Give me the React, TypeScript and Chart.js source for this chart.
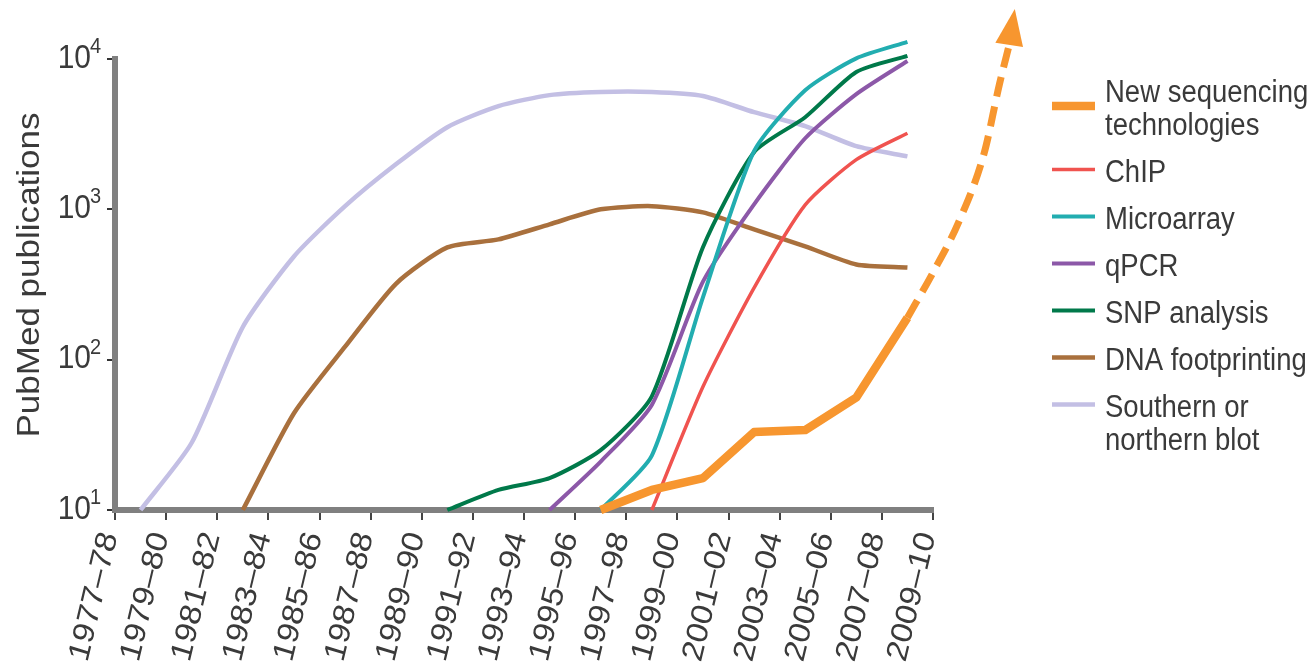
import React, { useEffect, useRef } from 'react';
import { Chart, registerables } from 'chart.js';

Chart.register(...registerables);

// ---------- data ----------
const PERIOD_LABELS = [
  '1977–78', '1979–80', '1981–82', '1983–84', '1985–86', '1987–88', '1989–90', '1991–92', '1993–94',
  '1995–96', '1997–98', '1999–00', '2001–02', '2003–04', '2005–06', '2007–08', '2009–10',
];
const TICK_POSITIONS = [0, 1, 2, 3, 4, 5, 6, 7, 8, 9, 10, 11, 12, 13, 14, 15, 16];
const POINT_X = [0.5, 1.5, 2.5, 3.5, 4.5, 5.5, 6.5, 7.5, 8.5, 9.5, 10.5, 11.5, 12.5, 13.5, 14.5, 15.5];

const NGS = [null, null, null, null, null, null, null, null, null, 10, 13.6, 16.3, 33, 34, 56, 190];
const NGS_PROJ_X = [15.5, 16.0, 16.5, 17.0, 17.3, 17.49];
const NGS_PROJ_Y = [190, 380, 820, 2360, 6810, 12400];
const NGS_ARROW_TIP = { x: 17.6, y: 21500 };
const CHIP = [null, null, null, null, null, null, null, null, null, null, 10, 66, 300, 1070, 2140, 3210];
const MICROARRAY = [null, null, null, null, null, null, null, null, null, 10, 23, 260, 2440, 6200, 10100, 13000];
const QPCR = [null, null, null, null, null, null, null, null, 10, 21, 50, 330, 1080, 2970, 5840, 9700];
const SNP = [null, null, null, null, null, null, 10, 13.6, 16.3, 25, 57, 560, 2400, 4100, 8200, 10500];
const DNA_FP = [null, null, 10, 44, 122, 321, 558, 631, 795, 1000, 1050, 955, 735, 567, 430, 410];
const BLOT = [10, 28, 165, 486, 1050, 2000, 3520, 4860, 5750, 6030, 6030, 5670, 4430, 3580, 2630, 2250];

const Y_TICKS = [10, 100, 1000, 10000];
const Y_TICK_EXP = ['1', '2', '3', '4'];
const Y_TITLE = 'PubMed publications';

const LEGEND_LABELS = [
  ['New sequencing', 'technologies'],
  ['ChIP'],
  ['Microarray'],
  ['qPCR'],
  ['SNP analysis'],
  ['DNA footprinting'],
  ['Southern or', 'northern blot'],
];

// ---------- styles ----------
const C_ORANGE = '#f7962f';
const C_RED = '#f0534f';
const C_CYAN = '#22adb0';
const C_PURPLE = '#8c58a8';
const C_GREEN = '#00794a';
const C_BROWN = '#a9703d';
const C_LAVENDER = '#c3bfe4';
const AXIS_GRAY = '#808080';
const TEXT_COLOR = '#3a3a3a';
const FONT_FAMILY = '"Liberation Sans", Arial, Helvetica, sans-serif';
const TEXT_STRETCH = 1.13;
const LINE_TENSION = 0.22;

const LEGEND_LAYOUT = {
  swatchX0: 1052,
  swatchX1: 1095,
  textX: 1105,
  firstBaseline: 102,
  lineHeight: 33,
  entryGap: 47,
  fontSize: 27.5,
  swatchLift: 12.5,
  swatchLine: [0.5, 0, 0, 0, 0, 0, 0],
  datasetIndex: [0, 2, 3, 4, 5, 6, 7],
};

const toPoints = (vals: (number | null)[]) => vals.map((v, i) => ({ x: POINT_X[i], y: v }));

function drawText(
  ctx: CanvasRenderingContext2D,
  text: string,
  x: number,
  y: number,
  size: number,
  align: CanvasTextAlign,
  baseline: CanvasTextBaseline,
  angleDeg = 0,
) {
  ctx.save();
  ctx.translate(x, y);
  ctx.scale(1, TEXT_STRETCH);
  if (angleDeg) ctx.rotate((-angleDeg * Math.PI) / 180);
  ctx.font = `${size}px ${FONT_FAMILY}`;
  ctx.fillStyle = TEXT_COLOR;
  ctx.textAlign = align;
  ctx.textBaseline = baseline;
  ctx.fillText(text, 0, 0);
  ctx.restore();
}

const decorPlugin = {
  id: 'decor',
  afterDatasetsDraw(chart: any) {
    const { ctx, scales } = chart;
    const meta = chart.getDatasetMeta(1);
    const pts = meta.data;
    if (!pts || !pts.length) return;
    const base = pts[pts.length - 1];
    const tipX = scales.x.getPixelForValue(NGS_ARROW_TIP.x);
    const tipY = scales.y.getPixelForValue(NGS_ARROW_TIP.y);
    const dx = tipX - base.x;
    const dy = tipY - base.y;
    const len = Math.hypot(dx, dy) || 1;
    const px = -dy / len;
    const py = dx / len;
    const hw = 14;
    ctx.save();
    ctx.fillStyle = C_ORANGE;
    ctx.beginPath();
    ctx.moveTo(tipX, tipY);
    ctx.lineTo(base.x + px * hw, base.y + py * hw);
    ctx.lineTo(base.x - px * hw, base.y - py * hw);
    ctx.closePath();
    ctx.fill();
    ctx.restore();
  },
  afterDraw(chart: any) {
    const { ctx, scales } = chart;
    const xs = scales.x;
    const ys = scales.y;
    // y tick labels
    Y_TICKS.forEach((v, i) => {
      const py = ys.getPixelForValue(v);
      drawText(ctx, '10', 91, py + 8.5, 30, 'right', 'alphabetic');
      drawText(ctx, Y_TICK_EXP[i], 90, py - 6, 20, 'left', 'alphabetic');
    });
    // x tick labels
    PERIOD_LABELS.forEach((lab, i) => {
      const px = xs.getPixelForValue(TICK_POSITIONS[i]);
      drawText(ctx, lab, px - 5.5, ys.bottom + 23, 30, 'right', 'middle', 75);
    });
    // y title
    drawText(ctx, Y_TITLE, 39, 275, 31, 'center', 'alphabetic', 90);
    // legend
    const L = LEGEND_LAYOUT;
    let baseline = L.firstBaseline;
    LEGEND_LABELS.forEach((lines, i) => {
      const ds = chart.data.datasets[L.datasetIndex[i]];
      const sy = baseline + L.swatchLine[i] * L.lineHeight - L.swatchLift;
      ctx.save();
      ctx.strokeStyle = ds.borderColor;
      ctx.lineWidth = ds.borderWidth;
      ctx.lineCap = 'butt';
      ctx.beginPath();
      ctx.moveTo(L.swatchX0, sy);
      ctx.lineTo(L.swatchX1, sy);
      ctx.stroke();
      ctx.restore();
      lines.forEach((t, j) => {
        drawText(ctx, t, L.textX, baseline + j * L.lineHeight, L.fontSize, 'left', 'alphabetic');
      });
      baseline += (lines.length - 1) * L.lineHeight + L.entryGap;
    });
  },
};

const smooth = { tension: LINE_TENSION };

export default function App() {
  const ref = useRef<HTMLCanvasElement>(null);
  useEffect(() => {
    const canvas = ref.current;
    if (!canvas) return;
    const chart = new Chart(canvas, {
      type: 'line',
      data: {
        datasets: [
          { label: 'New sequencing technologies', data: toPoints(NGS), borderColor: C_ORANGE, borderWidth: 8.5, tension: 0, borderJoinStyle: 'round' },
          {
            label: 'New sequencing technologies (projection)',
            data: NGS_PROJ_X.map((x, i) => ({ x, y: NGS_PROJ_Y[i] })),
            borderColor: C_ORANGE,
            borderWidth: 7,
            borderDash: [20, 10],
            cubicInterpolationMode: 'monotone',
          },
          { label: 'ChIP', data: toPoints(CHIP), borderColor: C_RED, borderWidth: 3.5, ...smooth },
          { label: 'Microarray', data: toPoints(MICROARRAY), borderColor: C_CYAN, borderWidth: 4, ...smooth },
          { label: 'qPCR', data: toPoints(QPCR), borderColor: C_PURPLE, borderWidth: 4, ...smooth },
          { label: 'SNP analysis', data: toPoints(SNP), borderColor: C_GREEN, borderWidth: 4, ...smooth },
          { label: 'DNA footprinting', data: toPoints(DNA_FP), borderColor: C_BROWN, borderWidth: 4.5, ...smooth },
          { label: 'Southern or northern blot', data: toPoints(BLOT), borderColor: C_LAVENDER, borderWidth: 4.5, ...smooth },
        ] as any,
      },
      options: {
        animation: false,
        responsive: false,
        devicePixelRatio: 1,
        clip: false as any,
        layout: { padding: { top: 59, right: 378, left: 0, bottom: 0 } },
        plugins: { legend: { display: false }, tooltip: { enabled: false } },
        elements: { point: { radius: 0 }, line: { borderCapStyle: 'butt', fill: false } },
        scales: {
          x: {
            type: 'linear',
            afterDataLimits: (s: any) => {
              s.min = TICK_POSITIONS[0];
              s.max = TICK_POSITIONS[TICK_POSITIONS.length - 1];
            },
            afterBuildTicks: (s: any) => {
              s.ticks = TICK_POSITIONS.map((v) => ({ value: v }));
            },
            afterFit: (s: any) => {
              s.height = 156;
            },
            ticks: { display: false, stepSize: 1 },
            grid: { drawOnChartArea: false, drawTicks: true, tickLength: 10, tickColor: '#444', tickWidth: 2, lineWidth: 2 },
            border: { display: true, color: AXIS_GRAY, width: 6 },
          },
          y: {
            type: 'logarithmic',
            min: 10,
            max: 10000,
            afterBuildTicks: (s: any) => {
              s.ticks = Y_TICKS.map((v) => ({ value: v }));
            },
            afterFit: (s: any) => {
              s.width = 115;
            },
            ticks: { display: false },
            grid: { drawOnChartArea: false, drawTicks: true, tickLength: 8, tickColor: '#333', tickWidth: 2, lineWidth: 2 },
            border: { display: true, color: AXIS_GRAY, width: 6 },
          },
        },
      } as any,
      plugins: [decorPlugin],
    });
    return () => chart.destroy();
  }, []);
  return (
    <div style={{ position: 'fixed', left: 0, top: 0, width: 1311, height: 666, background: '#fff' }}>
      <canvas ref={ref} width={1311} height={666} style={{ display: 'block', width: 1311, height: 666 }} />
    </div>
  );
}
